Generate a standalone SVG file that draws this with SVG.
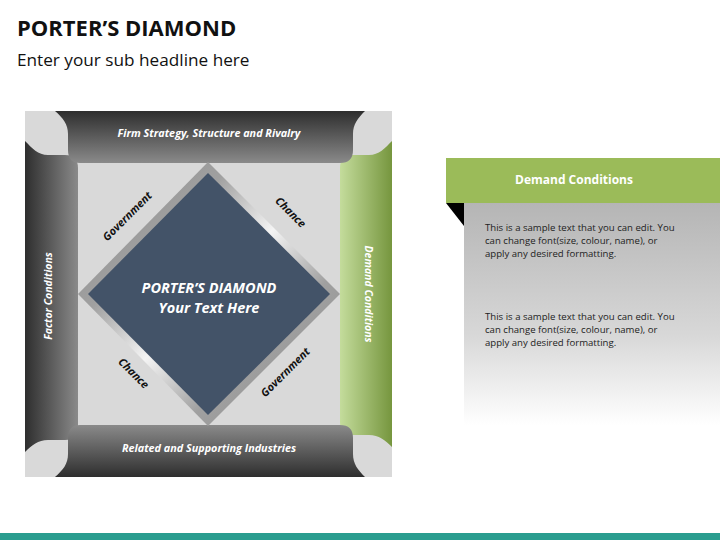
<svg xmlns="http://www.w3.org/2000/svg" width="720" height="540" viewBox="0 0 720 540">
<defs>
<linearGradient id="gTop" x1="0" y1="0" x2="0" y2="1"><stop offset="0" stop-color="#2e2e2e"/><stop offset="1" stop-color="#8a8a8a"/></linearGradient>
<linearGradient id="gBot" x1="0" y1="1" x2="0" y2="0"><stop offset="0" stop-color="#2e2e2e"/><stop offset="1" stop-color="#8a8a8a"/></linearGradient>
<linearGradient id="gLeft" x1="0" y1="0" x2="1" y2="0"><stop offset="0" stop-color="#2e2e2e"/><stop offset="1" stop-color="#8a8a8a"/></linearGradient>
<linearGradient id="gRight" x1="0" y1="0" x2="1" y2="0"><stop offset="0" stop-color="#c4dc9c"/><stop offset="1" stop-color="#76963e"/></linearGradient>
<linearGradient id="gFrame" x1="0" y1="0" x2="1" y2="1"><stop offset="0" stop-color="#8c8c8c"/><stop offset="0.3" stop-color="#a0a0a0"/><stop offset="0.5" stop-color="#f4f4f4"/><stop offset="0.7" stop-color="#a0a0a0"/><stop offset="1" stop-color="#8c8c8c"/></linearGradient>
<linearGradient id="gPanel" x1="0" y1="0" x2="0" y2="1"><stop offset="0" stop-color="#b5b5b5"/><stop offset="0.6" stop-color="#d8d8d8"/><stop offset="1" stop-color="#ffffff"/></linearGradient>
</defs>
<style>
.w{fill:#fff;font-family:"Open Sans","Liberation Sans",sans-serif;font-weight:bold;font-style:italic}
.k{fill:#111;font-family:"Open Sans","Liberation Sans",sans-serif;font-weight:bold;font-style:italic;font-size:11px}
.b{fill:#222;font-family:"Open Sans","Liberation Sans",sans-serif;font-size:9.6px}
</style>
<text x="17" y="36" font-family="'Open Sans','Liberation Sans',sans-serif" font-weight="bold" font-size="22" fill="#111">PORTER’S DIAMOND</text>
<text x="17" y="66" font-family="'Open Sans','Liberation Sans',sans-serif" font-size="17.2" fill="#111">Enter your sub headline here</text>
<rect x="25" y="111" width="367" height="366" fill="#d9d9d9"/>
<g id="left">
<path d="M25,141 V452 C32,445 38,440 48,440 H65 Q78,440 78,427 V168 Q78,155 65,155 H48 C38,155 32,148 25,141 Z" fill="url(#gLeft)"/>
<text class="w" font-size="10.5" transform="translate(52,296) rotate(-90)" text-anchor="middle">Factor Conditions</text>
</g>
<g id="right">
<path d="M392,141 V447 C385,440 379,435 369,435 H352 Q340,435 340,422 V168 Q340,155 352,155 H369 C379,155 385,148 392,141 Z" fill="url(#gRight)"/>
<text class="w" font-size="10.5" transform="translate(365,294) rotate(90)" text-anchor="middle">Demand Conditions</text>
</g>
<g id="top">
<path d="M55,111 H365 C358,118 353,124 353,134 V150 Q353,163 340,163 H80 Q68,163 68,150 V134 C68,124 63,118 55,111 Z" fill="url(#gTop)"/>
<text class="w" x="209" y="137" text-anchor="middle" font-size="10.8">Firm Strategy, Structure and Rivalry</text>
</g>
<g id="bottom">
<path d="M55,477 H365 C358,470 353,464 353,454 V438 Q353,425 340,425 H80 Q68,425 68,438 V454 C68,464 63,470 55,477 Z" fill="url(#gBot)"/>
<text class="w" x="209" y="452" text-anchor="middle" font-size="10.8">Related and Supporting Industries</text>
</g>
<g id="diamond">
<polygon points="208,162 340,294 208,426 78,294" fill="url(#gFrame)"/>
<polygon points="208,173 330,294 208,415 88,294" fill="#435368"/>
<text class="w" x="209" y="293" text-anchor="middle" font-size="14.5">PORTER’S DIAMOND</text>
<text class="w" x="209" y="313" text-anchor="middle" font-size="14.5">Your Text Here</text>
</g>
<g id="labels">
<text class="k" transform="translate(130,219) rotate(-45)" text-anchor="middle">Government</text>
<text class="k" transform="translate(288,215) rotate(45)" text-anchor="middle">Chance</text>
<text class="k" transform="translate(131,376) rotate(45)" text-anchor="middle">Chance</text>
<text class="k" transform="translate(288,375) rotate(-45)" text-anchor="middle">Government</text>
</g>
<g id="panel">
<rect x="446" y="158" width="274" height="45" fill="#9bbb59"/>
<text x="574" y="184" text-anchor="middle" font-family="'Open Sans','Liberation Sans',sans-serif" font-weight="bold" font-size="12" fill="#fff">Demand Conditions</text>
<rect x="464" y="203" width="256" height="222" fill="url(#gPanel)"/>
<polygon points="446,203 464,203 464,226" fill="#000"/>
<text class="b" x="485" y="231">This is a sample text that you can edit. You</text>
<text class="b" x="485" y="244">can change font(size, colour, name), or</text>
<text class="b" x="485" y="257">apply any desired formatting.</text>
<text class="b" x="485" y="320">This is a sample text that you can edit. You</text>
<text class="b" x="485" y="333">can change font(size, colour, name), or</text>
<text class="b" x="485" y="346">apply any desired formatting.</text>
</g>
<rect x="0" y="533" width="720" height="7" fill="#2a9d8f"/>
</svg>
